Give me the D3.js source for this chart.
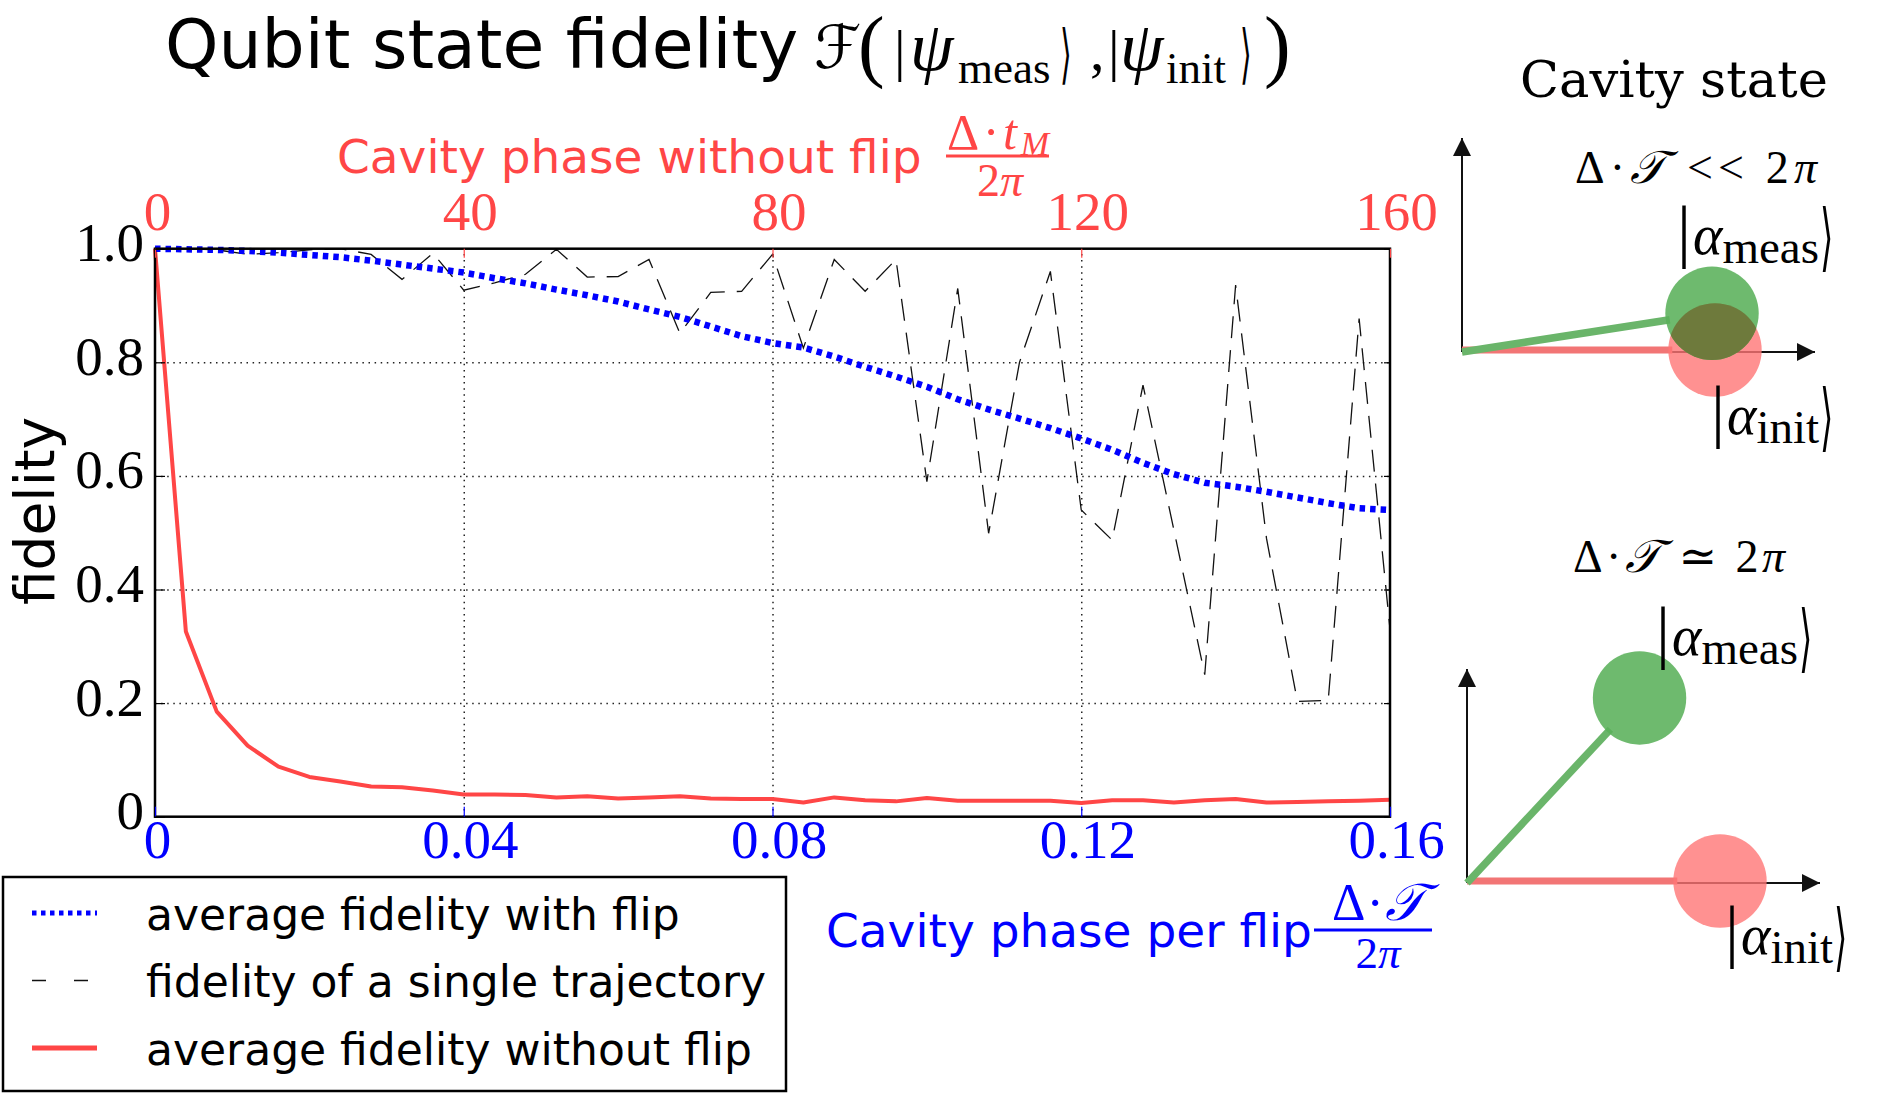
<!DOCTYPE html>
<html>
<head>
<meta charset="utf-8">
<script src="https://cdn.jsdelivr.net/npm/d3@7"></script>
<style>
  body { margin: 0; background: #fff; }
  svg { display: block; }
</style>
</head>
<body>
<div id="graph"></div>
<script>
// Values
const phasePerFlip = [0, 0.004, 0.008, 0.012, 0.016, 0.02, 0.024, 0.028, 0.032, 0.036,
  0.04, 0.044, 0.048, 0.052, 0.056, 0.06, 0.064, 0.068, 0.072, 0.076,
  0.08, 0.084, 0.088, 0.092, 0.096, 0.1, 0.104, 0.108, 0.112, 0.116,
  0.12, 0.124, 0.128, 0.132, 0.136, 0.14, 0.144, 0.148, 0.152, 0.156, 0.16]

const avgWithFlip = [1.0, 0.999, 0.998, 0.996, 0.993, 0.989, 0.985, 0.979, 0.972, 0.965,
  0.958, 0.948, 0.939, 0.928, 0.918, 0.907, 0.893, 0.88, 0.863, 0.846,
  0.834, 0.826, 0.81, 0.792, 0.775, 0.757, 0.735, 0.717, 0.701, 0.684,
  0.666, 0.646, 0.623, 0.603, 0.588, 0.581, 0.572, 0.562, 0.552, 0.543, 0.54]

const singleTrajectory = [1.0, 1.0, 0.998, 0.99, 0.993, 0.998, 1.0, 0.99, 0.946, 0.992,
  0.927, 0.94, 0.955, 0.999, 0.95, 0.951, 0.981, 0.851, 0.923, 0.925,
  0.99, 0.825, 0.981, 0.925, 0.981, 0.59, 0.93, 0.499, 0.8, 0.96,
  0.54, 0.487, 0.76, 0.505, 0.25, 0.936, 0.49, 0.203, 0.205, 0.877, 0.33]

const avgWithoutFlip = [1.0, 0.326, 0.185, 0.125, 0.088, 0.07, 0.062, 0.053, 0.052, 0.046,
  0.039, 0.039, 0.038, 0.034, 0.036, 0.032, 0.034, 0.036, 0.032, 0.031,
  0.031, 0.025, 0.034, 0.029, 0.027, 0.033, 0.028, 0.028, 0.028, 0.028,
  0.024, 0.029, 0.029, 0.025, 0.029, 0.031, 0.025, 0.026, 0.027, 0.028, 0.03]

const bottomTicks = [0, 0.04, 0.08, 0.12, 0.16]
const topTicks = [0, 40, 80, 120, 160]
const fidelityTicks = [0, 0.2, 0.4, 0.6, 0.8, 1.0]
const legendLabels = ['average fidelity with flip', 'fidelity of a single trajectory', 'average fidelity without flip']

// cavity sketches: phase of |alpha_meas> relative to |alpha_init> (degrees)
const sketchRegimes = ['<<', '≃']
const measPhase = [8.8, 47]

const RED = '#ff4646'
const BLUE = '#0000ff'
const sans = "'DejaVu Sans', sans-serif"
const serif = "'Liberation Serif', 'DejaVu Serif', serif"

const W = 1898, H = 1105
const margins = { top: 248.7, left: 155 }
const width = 1235
const height = 568

svg = d3.select('#graph').append('svg')
  .attr('width', W)
  .attr('height', H)
  .style('background', '#fff')

g = svg.append('g')
  .attr('transform', `translate(${margins.left}, ${margins.top})`)

x = d3.scaleLinear().domain([0, 0.16]).range([0, width])
xTop = d3.scaleLinear().domain([0, 160]).range([0, width])
y = d3.scaleLinear().domain([0, 1]).range([height, 0])

// grid
const gridX = g.append('g')
  .attr('transform', `translate(0, ${height})`)
  .call(d3.axisBottom(x).tickValues(bottomTicks.slice(1, -1)).tickSize(-height).tickFormat(''))
const gridY = g.append('g')
  .call(d3.axisLeft(y).tickValues(fidelityTicks.slice(1, -1)).tickSize(-width).tickFormat(''))
;[gridX, gridY].forEach(gr => {
  gr.select('.domain').remove()
  gr.selectAll('line')
    .attr('stroke', '#222')
    .attr('stroke-width', 1.5)
    .attr('stroke-dasharray', '1.5,4.6')
})

// series
const line = d3.line()
  .x((d, i) => x(phasePerFlip[i]))
  .y(d => y(d))

g.append('path')
  .datum(avgWithoutFlip)
  .attr('fill', 'none')
  .attr('stroke', RED)
  .attr('stroke-width', 4)
  .attr('stroke-linejoin', 'round')
  .attr('d', line)

g.append('path')
  .datum(singleTrajectory)
  .attr('fill', 'none')
  .attr('stroke', '#111')
  .attr('stroke-width', 1.3)
  .attr('stroke-dasharray', '22,12')
  .attr('d', line)

g.append('path')
  .datum(avgWithFlip)
  .attr('fill', 'none')
  .attr('stroke', BLUE)
  .attr('stroke-width', 6.5)
  .attr('stroke-dasharray', '5.5,5')
  .attr('d', line)

// frame
g.append('rect')
  .attr('width', width)
  .attr('height', height)
  .attr('fill', 'none')
  .attr('stroke', '#000')
  .attr('stroke-width', 2.5)

// axes
const fmtY = d => d === 0 ? '0' : d3.format('.1f')(d)
const fmtX = d => d === 0 ? '0' : d3.format('.2f')(d)
const shift = d => d === 0 ? 2 : 6

const xAxis = g.append('g')
  .attr('transform', `translate(0, ${height})`)
  .call(d3.axisBottom(x).tickValues(bottomTicks).tickSizeInner(-10).tickSizeOuter(0).tickFormat(fmtX))
xAxis.selectAll('line').attr('stroke', BLUE).attr('stroke-width', 1.2)
xAxis.selectAll('text').attr('y', 41).attr('dy', 0).attr('dx', shift).attr('fill', BLUE)

const xAxisTop = g.append('g')
  .call(d3.axisTop(xTop).tickValues(topTicks).tickSizeInner(-9).tickSizeOuter(0))
xAxisTop.selectAll('line').attr('stroke', RED).attr('stroke-width', 1.2)
xAxisTop.selectAll('text').attr('y', -19).attr('dy', 0).attr('dx', shift).attr('fill', RED)

const yAxis = g.append('g')
  .call(d3.axisLeft(y).tickValues(fidelityTicks).tickSizeInner(-10).tickSizeOuter(0).tickFormat(fmtY))
yAxis.selectAll('line').attr('stroke', '#000').attr('stroke-width', 1.2)
yAxis.selectAll('text').attr('x', -11).attr('y', 12).attr('dy', 0).attr('fill', '#000')

const yAxisRight = g.append('g')
  .attr('transform', `translate(${width}, 0)`)
  .call(d3.axisRight(y).tickValues(fidelityTicks).tickSizeInner(-6).tickSizeOuter(0).tickFormat(''))
yAxisRight.selectAll('line').attr('stroke', '#000').attr('stroke-width', 1.2)

;[xAxis, xAxisTop, yAxis, yAxisRight].forEach(a => {
  a.select('.domain').remove()
  a.selectAll('text').style('font-family', serif).style('font-size', '55px')
})

// y label
svg.append('text')
  .attr('transform', 'translate(54, 511) rotate(-90)')
  .attr('text-anchor', 'middle')
  .style('font-family', sans)
  .style('font-size', '55px')
  .text('fidelity')

function piece(parent, str, px, py, size, opts = {}) {
  return parent.append('text')
    .attr('x', px).attr('y', py)
    .attr('text-anchor', opts.anchor || 'start')
    .attr('fill', opts.fill || '#000')
    .style('font-family', opts.family || serif)
    .style('font-size', size + 'px')
    .style('font-style', opts.italic ? 'italic' : 'normal')
    .text(str)
}

// tall, thin angle bracket of a ket
function rangle(parent, px, py, size, fill) {
  return parent.append('text')
    .attr('transform', `translate(${px}, ${py}) scale(0.6, 1.3)`)
    .attr('fill', fill || '#000')
    .style('font-family', sans)
    .style('font-size', size + 'px')
    .text('⟩')
}

// title
const title = svg.append('g')
piece(title, 'Qubit state fidelity', 165, 68, 68, { family: sans })
piece(title, 'ℱ', 814, 68, 60, { italic: true, family: sans })
piece(title, '(', 858, 72, 80)
piece(title, '|', 894, 70, 58)
piece(title, 'ψ', 910, 70, 70, { italic: true })
piece(title, 'meas', 958, 83, 45)
rangle(title, 1060, 76, 50)
piece(title, ',', 1090, 70, 58)
piece(title, '|', 1108, 70, 58)
piece(title, 'ψ', 1120, 70, 70, { italic: true })
piece(title, 'init', 1166, 83, 45)
rangle(title, 1240, 76, 50)
piece(title, ')', 1264, 72, 80)

// top axis label
piece(svg, 'Cavity phase without flip', 337, 173, 47, { family: sans, fill: RED })
const numTop = svg.append('text')
  .attr('x', 947).attr('y', 149)
  .attr('textLength', 102).attr('lengthAdjust', 'spacing')
  .attr('fill', RED)
  .style('font-family', serif).style('font-size', '50px')
numTop.append('tspan').text('Δ·')
numTop.append('tspan').style('font-style', 'italic').text('t')
numTop.append('tspan').style('font-style', 'italic').style('font-size', '34px').attr('dy', 6).text('M')
svg.append('line')
  .attr('x1', 946).attr('x2', 1049).attr('y1', 156).attr('y2', 156)
  .attr('stroke', RED).attr('stroke-width', 3)
const denTop = svg.append('text')
  .attr('x', 1000).attr('y', 196)
  .attr('text-anchor', 'middle')
  .attr('fill', RED)
  .style('font-family', serif).style('font-size', '46px')
denTop.append('tspan').text('2')
denTop.append('tspan').style('font-style', 'italic').text('π')

// bottom axis label
piece(svg, 'Cavity phase per flip', 826, 947, 47, { family: sans, fill: BLUE })
const numBot = svg.append('text')
  .attr('x', 1332).attr('y', 920)
  .attr('textLength', 93).attr('lengthAdjust', 'spacing')
  .attr('fill', BLUE)
  .style('font-family', serif).style('font-size', '52px')
numBot.append('tspan').text('Δ·')
numBot.append('tspan').style('font-style', 'italic').text('𝒯')
svg.append('line')
  .attr('x1', 1314).attr('x2', 1432).attr('y1', 930).attr('y2', 930)
  .attr('stroke', BLUE).attr('stroke-width', 3)
const denBot = svg.append('text')
  .attr('x', 1378).attr('y', 968)
  .attr('text-anchor', 'middle')
  .attr('fill', BLUE)
  .style('font-family', serif).style('font-size', '45px')
denBot.append('tspan').text('2')
denBot.append('tspan').style('font-style', 'italic').text('π')

// legend
const legend = svg.append('g').attr('transform', 'translate(3, 877)')
legend.append('rect')
  .attr('width', 783).attr('height', 214)
  .attr('fill', '#fff').attr('stroke', '#000').attr('stroke-width', 2.5)
const legendStyles = [
  { stroke: BLUE, width: 5, dash: '4.5,4.5' },
  { stroke: '#111', width: 1.3, dash: '14,28' },
  { stroke: RED, width: 5, dash: null }
]
legendLabels.forEach((lab, i) => {
  const ly = 36 + i * 67.5
  legend.append('line')
    .attr('x1', 29).attr('x2', 94).attr('y1', ly).attr('y2', ly)
    .attr('stroke', legendStyles[i].stroke)
    .attr('stroke-width', legendStyles[i].width)
    .attr('stroke-dasharray', legendStyles[i].dash)
  legend.append('text')
    .attr('x', 143).attr('y', ly + 16.5)
    .style('font-family', sans).style('font-size', '44px')
    .text(lab)
})

// cavity state sketches
piece(svg, 'Cavity state', 1520, 97, 51, { family: "'DejaVu Serif', serif" })

const defs = svg.append('defs')
defs.append('marker')
  .attr('id', 'arrow')
  .attr('markerUnits', 'userSpaceOnUse')
  .attr('markerWidth', 20).attr('markerHeight', 20)
  .attr('refX', 18).attr('refY', 9)
  .attr('orient', 'auto')
  .append('path')
  .attr('d', 'M0,0 L18,9 L0,18 Z')
  .attr('fill', '#111')

const sketchOrigins = [[1462, 352], [1467, 883]]
const amp = d3.scaleLinear().domain([0, 1]).range([0, 253])

function ket(px, py, sub) {
  const t = svg.append('text').attr('x', px).attr('y', py).style('font-family', serif)
  t.append('tspan').style('font-size', '70px').text('|')
  t.append('tspan').style('font-size', '56px').style('font-style', 'italic').attr('dx', 2).text('α')
  t.append('tspan').style('font-size', '47px').attr('dy', 9).text(sub)
  const w = t.node().getComputedTextLength()
  rangle(svg, px + w + 3, py + 8, 57)
}

sketchRegimes.forEach((rel, k) => {
  const [ox, oy] = sketchOrigins[k]
  const sg = svg.append('g').attr('transform', `translate(${ox}, ${oy})`)
  const phi = measPhase[k] * Math.PI / 180
  const r = 46.7
  const init = [amp(1), -2]
  const meas = [amp(1) * Math.cos(phi), -amp(1) * Math.sin(phi)]
  const edge = (amp(1) - r + 4) / amp(1)

  sg.append('line').attr('x1', 0).attr('y1', 0).attr('x2', 0).attr('y2', -214)
    .attr('stroke', '#111').attr('stroke-width', 2).attr('marker-end', 'url(#arrow)')
  sg.append('line').attr('x1', 0).attr('y1', 0).attr('x2', 353).attr('y2', 0)
    .attr('stroke', '#111').attr('stroke-width', 2).attr('marker-end', 'url(#arrow)')

  sg.append('line').attr('x1', 0).attr('y1', -2).attr('x2', init[0] * edge).attr('y2', -2)
    .attr('stroke', '#f27575').attr('stroke-width', 7)
  sg.append('circle').attr('cx', init[0]).attr('cy', init[1]).attr('r', r)
    .attr('fill', 'rgb(255,118,118)').attr('fill-opacity', 0.8)

  sg.append('line').attr('x1', 0).attr('y1', 0).attr('x2', meas[0] * edge).attr('y2', meas[1] * edge)
    .attr('stroke', '#6ab56a').attr('stroke-width', 7.5)
  sg.append('circle').attr('cx', meas[0]).attr('cy', meas[1]).attr('r', r)
    .attr('fill', 'rgb(90,176,90)').attr('fill-opacity', 0.88)

  // overlap of the two states
  defs.append('clipPath').attr('id', 'clipInit' + k)
    .append('circle').attr('cx', init[0]).attr('cy', init[1]).attr('r', r)
  sg.append('circle').attr('cx', meas[0]).attr('cy', meas[1]).attr('r', r)
    .attr('clip-path', `url(#clipInit${k})`)
    .attr('fill', '#6e7a3c')
})

// regime labels
const reg1 = svg.append('text').attr('x', 1575).attr('y', 183)
  .attr('textLength', 242).attr('lengthAdjust', 'spacing')
  .style('font-family', serif).style('font-size', '46px')
reg1.append('tspan').text('Δ·')
reg1.append('tspan').style('font-style', 'italic').text('𝒯')
reg1.append('tspan').text(' ' + sketchRegimes[0] + ' 2')
reg1.append('tspan').style('font-style', 'italic').text('π')

const reg2 = svg.append('text').attr('x', 1573).attr('y', 572)
  .attr('textLength', 212).attr('lengthAdjust', 'spacing')
  .style('font-family', serif).style('font-size', '46px')
reg2.append('tspan').text('Δ·')
reg2.append('tspan').style('font-style', 'italic').text('𝒯')
reg2.append('tspan').text(' ' + sketchRegimes[1] + ' 2')
reg2.append('tspan').style('font-style', 'italic').text('π')

ket(1677, 254, 'meas')
ket(1711, 434, 'init')
ket(1656, 655, 'meas')
ket(1725, 954, 'init')
</script>
</body>
</html>
